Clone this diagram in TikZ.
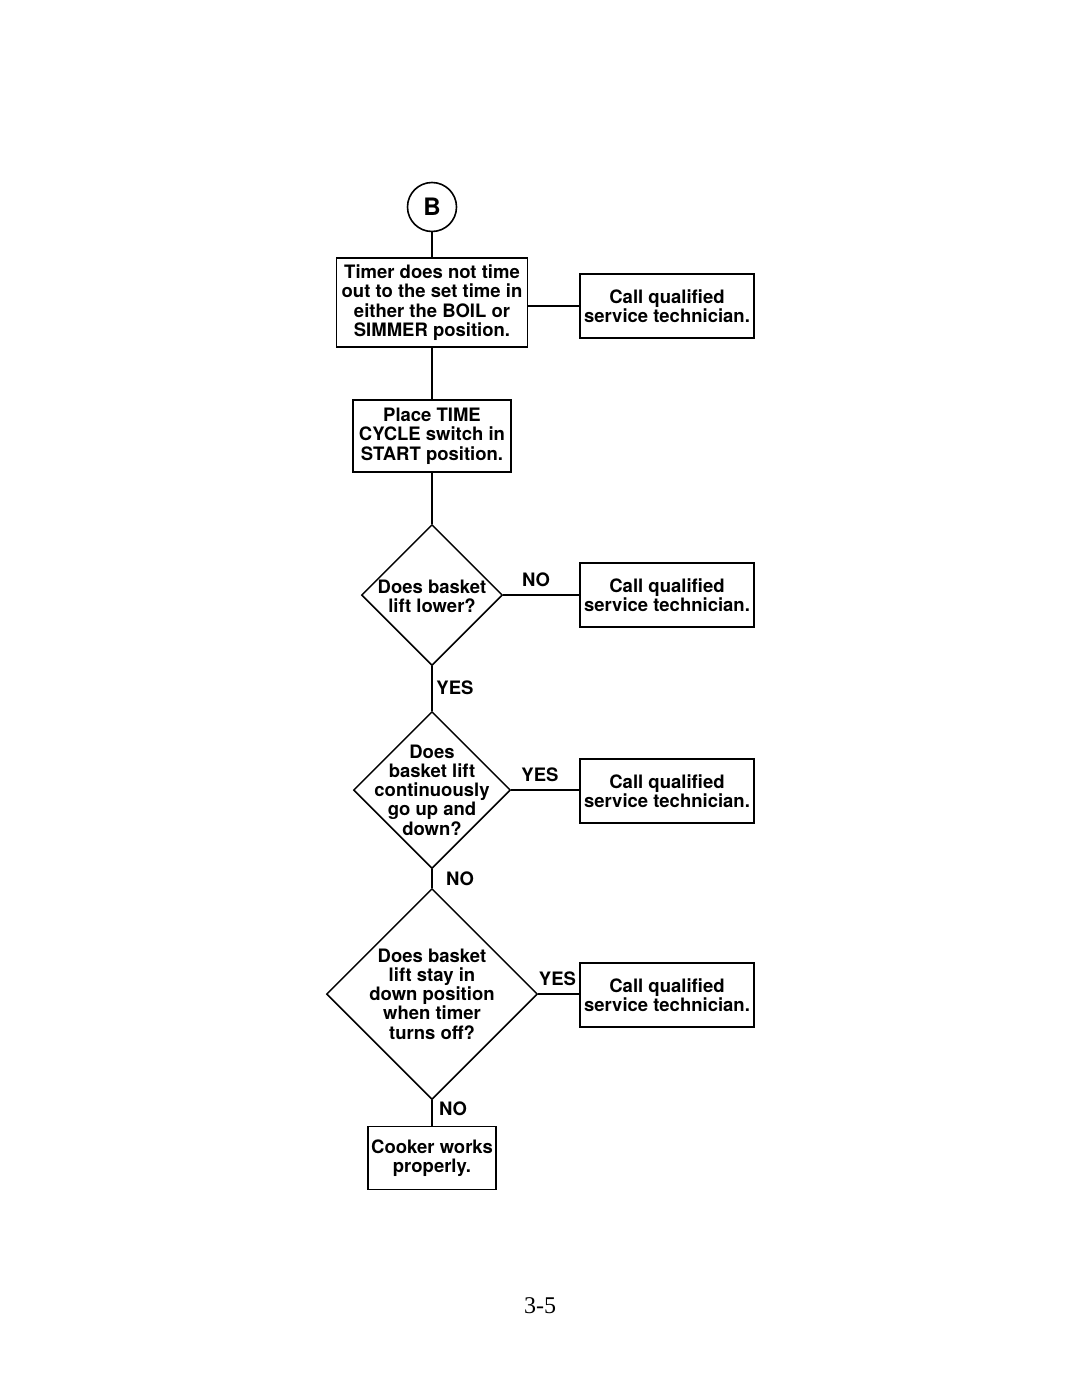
\documentclass[tikz,border=0pt]{standalone}
\usepackage{fontspec}
\setmainfont{TeX Gyre Heros}
\newfontfamily\pagefont{Liberation Serif}
\usetikzlibrary{shapes.geometric}
\begin{document}
\begin{tikzpicture}[x=1pt,y=-1pt,
  txt/.style={font=\fontsize{18.5}{19.3}\selectfont\bfseries, align=center, inner sep=1pt},
  box/.style={txt, draw, line width=1.6pt, inner sep=2pt},
  dia/.style={draw, diamond, line width=1.5pt, inner sep=0pt, aspect=1},
  lab/.style={font=\fontsize{18.5}{19.3}\selectfont\bfseries, inner sep=0pt},
  conn/.style={line width=1.4pt}]
\useasboundingbox (0,0) rectangle (1080,1397);
% start
\node[draw, circle, line width=1.6pt, minimum size=49pt, inner sep=0pt,
      font=\fontsize{24}{24}\selectfont\bfseries] (B) at (432,207) {B};
% boxes
\node[box, minimum width=191pt, minimum height=89pt] (b1) at (432,302.5)
  {Timer does not time\\out to the set time in\\either the BOIL or\\SIMMER position.};
\node[box, minimum width=174pt, minimum height=64pt] (r1) at (667,306)
  {Call qualified\\service technician.};
\node[box, minimum width=158pt, minimum height=72pt] (b2) at (432,436)
  {Place TIME\\CYCLE switch in\\START position.};
% diamond 1
\node[dia, minimum size=141pt] (d1) at (432,595) {};
\node[txt] (d1t) at (432,596) {Does basket\\lift lower?};
\node[box, minimum width=174pt, minimum height=64pt] (r2) at (667,595)
  {Call qualified\\service technician.};
% diamond 2
\node[dia, minimum size=157pt] (d2) at (432,790) {};
\node[txt] (d2t) at (432,790) {Does\\basket lift\\continuously\\go up and\\down?};
\node[box, minimum width=174pt, minimum height=64pt] (r3) at (667,791)
  {Call qualified\\service technician.};
% diamond 3
\node[dia, minimum size=211pt] (d3) at (432,994) {};
\node[txt] (d3t) at (432,994) {Does basket\\lift stay in\\down position\\when timer\\turns off?};
\node[box, minimum width=174pt, minimum height=64pt] (r4) at (667,995)
  {Call qualified\\service technician.};
% end box
\node[box, minimum width=128pt, minimum height=63pt] (e) at (432,1158)
  {Cooker works\\properly.};
% connectors
\draw[conn] (B.south) -- (b1.north);
\draw[conn] (b1.east |- r1.west) -- (r1.west);
\draw[conn] (b1.south) -- (b2.north);
\draw[conn] (b2.south) -- (d1.north);
\draw[conn] (d1.east) -- (d1.east -| r2.west);
\draw[conn] (d1.south) -- (d2.north);
\draw[conn] (d2.east) -- (d2.east -| r3.west);
\draw[conn] (d2.south) -- (d3.north);
\draw[conn] (d3.east) -- (d3.east -| r4.west);
\draw[conn] (d3.south) -- (e.north);
% labels
\node[lab] (l1) at (536,580) {NO};
\node[lab] (l2) at (455,688) {YES};
\node[lab] (l3) at (540,775) {YES};
\node[lab] (l4) at (460,879) {NO};
\node[lab] (l5) at (557.5,979) {YES};
\node[lab] (l6) at (453,1109) {NO};
% page number
\node[font=\pagefont\fontsize{24}{24}\selectfont, inner sep=0pt] (pg) at (540,1306) {3-5};
\end{tikzpicture}
\end{document}
